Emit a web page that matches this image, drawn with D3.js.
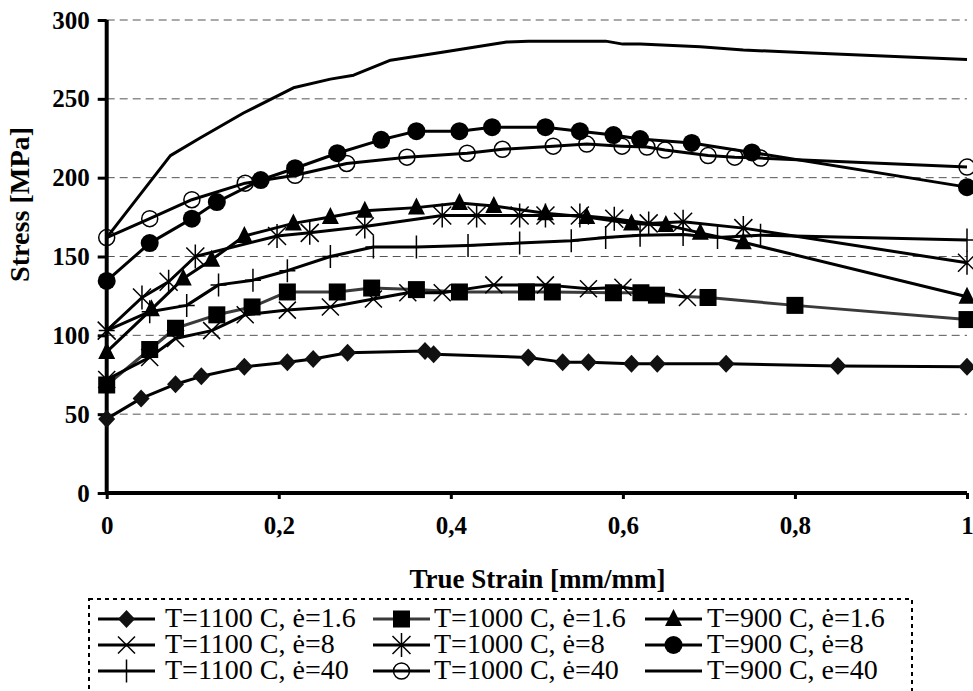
<!DOCTYPE html>
<html>
<head>
<meta charset="utf-8">
<script src="https://cdn.jsdelivr.net/npm/d3@7"></script>
<style>
  body { margin: 0; background: #fff; }
  svg text { font-family: 'Liberation Serif', 'Times New Roman', Times, serif !important; fill: #000; }
</style>
</head>
<body>
<svg id="grafico"></svg>
<script>
// eixos
const xTicks = [0, 0.2, 0.4, 0.6, 0.8, 1];
const xTickLabels = ['0', '0,2', '0,4', '0,6', '0,8', '1'];
const yTicks = [0, 50, 100, 150, 200, 250, 300];

// T=1100 C, e=1.6 (losango)
const strain1100_16 = [0, 0.04, 0.08, 0.11, 0.16, 0.21, 0.24, 0.28, 0.37, 0.38, 0.49, 0.53, 0.56, 0.61, 0.64, 0.72, 0.85, 1];
const stress1100_16 = [47, 60, 69, 74, 80, 83, 85, 89, 90, 88, 86, 83, 83, 82, 82, 82, 80.5, 80];

// T=1000 C, e=1.6 (quadrado)
const strain1000_16 = [0, 0.05, 0.08, 0.128, 0.169, 0.21, 0.268, 0.308, 0.36, 0.41, 0.488, 0.518, 0.589, 0.621, 0.639, 0.699, 0.8, 1];
const stress1000_16 = [68.5, 91, 104.5, 113, 118, 127.5, 127.5, 130, 129, 127.5, 127.5, 127.5, 127, 127, 125.5, 124, 119, 110];

// T=900 C, e=1.6 (triangulo)
const strain900_16 = [0, 0.052, 0.089, 0.122, 0.16, 0.217, 0.26, 0.3, 0.36, 0.41, 0.45, 0.51, 0.558, 0.61, 0.65, 0.69, 0.74, 1];
const stress900_16 = [89.5, 116.5, 136, 148, 163, 171, 175, 179, 181, 184, 182, 177.5, 175, 171, 170, 165, 159, 124.5];

// T=1100 C, e=8 (x)
const strain1100_8 = [0, 0.05, 0.08, 0.122, 0.161, 0.21, 0.26, 0.31, 0.35, 0.39, 0.45, 0.51, 0.56, 0.6, 0.675];
const stress1100_8 = [72, 86, 98, 103, 113, 116, 118, 123, 127, 127, 132, 132, 129.5, 130.5, 124];

// T=1000 C, e=8 (asterisco)
const strain1000_8 = [0, 0.041, 0.072, 0.103, 0.198, 0.236, 0.3, 0.39, 0.43, 0.48, 0.51, 0.55, 0.59, 0.63, 0.67, 0.74, 1];
const stress1000_8 = [103, 124, 134, 150, 163, 165, 169, 176, 176, 176, 176, 176, 174, 171, 172, 168, 146];

// T=900 C, e=8 (circulo cheio)
const strain900_8 = [0, 0.05, 0.099, 0.128, 0.179, 0.219, 0.268, 0.319, 0.36, 0.41, 0.448, 0.51, 0.55, 0.589, 0.62, 0.68, 0.75, 1];
const stress900_8 = [134.5, 158.5, 174, 184.5, 198.5, 206, 215.5, 224, 229.5, 229.5, 232, 232, 229.5, 227, 224.5, 222, 216, 194];

// T=1100 C, e=40 (cruz)
const strain1100_40 = [0, 0.05, 0.093, 0.13, 0.17, 0.21, 0.26, 0.31, 0.36, 0.42, 0.48, 0.54, 0.58, 0.62, 0.67, 0.71, 0.76, 1];
const stress1100_40 = [103, 115, 119, 132, 135, 141, 150, 156, 156, 157, 158.5, 160, 162, 163.5, 164, 162, 163.5, 160.5];

// T=1000 C, e=40 (circulo vazio)
const strain1000_40 = [0, 0.05, 0.099, 0.161, 0.219, 0.279, 0.349, 0.419, 0.46, 0.519, 0.558, 0.599, 0.628, 0.649, 0.699, 0.73, 0.76, 1];
const stress1000_40 = [162, 174, 186, 196.5, 201.5, 209, 213, 215.5, 218, 220, 221.3, 220, 219.4, 217.5, 214, 213, 212.4, 206.7];

// T=900 C, e=40 (so linha)
const strain900_40 = [0, 0.074, 0.108, 0.159, 0.217, 0.26, 0.287, 0.33, 0.39, 0.465, 0.49, 0.58, 0.6, 0.62, 0.69, 0.74, 0.82, 0.93, 1];
const stress900_40 = [162, 214, 225, 241, 257, 262.5, 265, 274.5, 279.5, 286, 286.6, 286.6, 284.7, 284.7, 283, 281, 279, 276.5, 275];

const series = [
    { nome: 'T=1100 C, \u0117=1.6', x: strain1100_16, y: stress1100_16, marca: 'losango', cor: '#000' },
    { nome: 'T=1000 C, \u0117=1.6', x: strain1000_16, y: stress1000_16, marca: 'quadrado', cor: '#3a3a3a' },
    { nome: 'T=900 C, \u0117=1.6', x: strain900_16, y: stress900_16, marca: 'triangulo', cor: '#000' },
    { nome: 'T=1100 C, \u0117=8', x: strain1100_8, y: stress1100_8, marca: 'xis', cor: '#000' },
    { nome: 'T=1000 C, \u0117=8', x: strain1000_8, y: stress1000_8, marca: 'asterisco', cor: '#000' },
    { nome: 'T=900 C, \u0117=8', x: strain900_8, y: stress900_8, marca: 'circulo', cor: '#000' },
    { nome: 'T=1100 C, \u0117=40', x: strain1100_40, y: stress1100_40, marca: 'cruz', cor: '#000' },
    { nome: 'T=1000 C, \u0117=40', x: strain1000_40, y: stress1000_40, marca: 'aberto', cor: '#000' },
    { nome: 'T=900 C, e=40', x: strain900_40, y: stress900_40, marca: 'nenhum', cor: '#000' }
];

const largura = 973, altura = 691;
const margem = { esquerda: 106.7, direita: 6, superior: 20, inferior: 198 };
const fonte = "'Liberation Serif', 'Times New Roman', Times, serif";

let svg = d3.select('#grafico')
    .attr('width', largura)
    .attr('height', altura);

const fnX = d3.scaleLinear().domain([0, 1]).range([margem.esquerda, largura - margem.direita]);
const fnY = d3.scaleLinear().domain([0, 300]).range([altura - margem.inferior, margem.superior]);

// grade tracejada
svg.append('g')
    .selectAll('line')
    .data(yTicks.filter((d) => d > 0))
    .enter()
    .append('line')
    .attr('x1', fnX(0))
    .attr('x2', fnX(1))
    .attr('y1', (d) => fnY(d))
    .attr('y2', (d) => fnY(d))
    .attr('stroke', '#555')
    .attr('stroke-width', 1)
    .attr('stroke-dasharray', '8,5');

// eixo Y
let eixoY = svg.append('g')
    .attr('transform', 'translate(' + fnX(0) + ',0)')
    .call(d3.axisLeft(fnY).tickValues(yTicks).tickSize(9).tickPadding(8).tickFormat(d3.format('d')));
eixoY.attr('font-family', fonte);
eixoY.select('.domain').attr('stroke-width', 4).attr('d', 'M0,' + fnY(300) + 'V' + fnY(0));
eixoY.selectAll('.tick line').attr('stroke-width', 3);
eixoY.selectAll('.tick text')
    .style('font-size', '25px')
    .style('font-weight', 'bold')
    .attr('fill', '#000');

// eixo X
let eixoX = svg.append('g')
    .attr('transform', 'translate(0,' + fnY(0) + ')')
    .call(d3.axisBottom(fnX).tickValues(xTicks).tickSize(6).tickPadding(17).tickFormat((d, i) => xTickLabels[i]));
eixoX.attr('font-family', fonte);
eixoX.select('.domain').attr('stroke-width', 4).attr('d', 'M' + fnX(0) + ',0H' + fnX(1));
eixoX.selectAll('.tick line').attr('stroke-width', 3);
eixoX.selectAll('.tick text')
    .style('font-size', '25px')
    .style('font-weight', 'bold')
    .attr('fill', '#000');

// titulos
svg.append('text')
    .attr('transform', 'translate(29,204.5) rotate(-90)')
    .style('text-anchor', 'middle')
    .style('font-size', '28px')
    .style('font-weight', 'bold')
    .attr('textLength', 155)
    .attr('lengthAdjust', 'spacingAndGlyphs')
    .text('Stress [MPa]');

svg.append('text')
    .attr('x', 537.5)
    .attr('y', 588)
    .style('text-anchor', 'middle')
    .style('font-size', '27px')
    .style('font-weight', 'bold')
    .text('True Strain [mm/mm]');

// marcadores
function desenheMarca(g, tipo, cx, cy) {
    if (tipo === 'losango') {
        g.append('path').attr('d', 'M' + cx + ',' + (cy - 9) + 'L' + (cx + 8.5) + ',' + cy + 'L' + cx + ',' + (cy + 9) + 'L' + (cx - 8.5) + ',' + cy + 'Z')
            .attr('fill', '#111');
    } else if (tipo === 'quadrado') {
        g.append('rect').attr('x', cx - 8.5).attr('y', cy - 8.5).attr('width', 17).attr('height', 17).attr('fill', '#000');
    } else if (tipo === 'triangulo') {
        g.append('path').attr('d', 'M' + cx + ',' + (cy - 10) + 'L' + (cx + 8.5) + ',' + (cy + 7) + 'L' + (cx - 8.5) + ',' + (cy + 7) + 'Z')
            .attr('fill', '#000');
    } else if (tipo === 'xis') {
        g.append('path').attr('d', 'M' + (cx - 8.5) + ',' + (cy - 8.5) + 'L' + (cx + 8.5) + ',' + (cy + 8.5) + 'M' + (cx + 8.5) + ',' + (cy - 8.5) + 'L' + (cx - 8.5) + ',' + (cy + 8.5))
            .attr('stroke', '#000').attr('stroke-width', 1.5);
    } else if (tipo === 'asterisco') {
        g.append('path').attr('d', 'M' + (cx - 9) + ',' + (cy - 9) + 'L' + (cx + 9) + ',' + (cy + 9) + 'M' + (cx + 9) + ',' + (cy - 9) + 'L' + (cx - 9) + ',' + (cy + 9) + 'M' + cx + ',' + (cy - 12) + 'L' + cx + ',' + (cy + 12))
            .attr('stroke', '#000').attr('stroke-width', 1.5);
    } else if (tipo === 'circulo') {
        g.append('circle').attr('cx', cx).attr('cy', cy).attr('r', 9).attr('fill', '#000');
    } else if (tipo === 'cruz') {
        g.append('path').attr('d', 'M' + cx + ',' + (cy - 11.5) + 'L' + cx + ',' + (cy + 11.5) + 'M' + (cx - 8) + ',' + cy + 'L' + (cx + 8) + ',' + cy)
            .attr('stroke', '#000').attr('stroke-width', 1.5);
    } else if (tipo === 'aberto') {
        g.append('circle').attr('cx', cx).attr('cy', cy).attr('r', 8).attr('fill', 'none')
            .attr('stroke', '#000').attr('stroke-width', 1.5);
    }
}

const linha = d3.line().x((d) => fnX(d[0])).y((d) => fnY(d[1]));

let plotagem = svg.append('g');
series.forEach((s) => {
    let pontos = s.x.map((v, i) => [v, s.y[i]]);
    plotagem.append('path')
        .datum(pontos)
        .attr('d', linha)
        .attr('fill', 'none')
        .attr('stroke', s.cor)
        .attr('stroke-width', 3)
        .attr('stroke-linejoin', 'round');
    let g = plotagem.append('g');
    pontos.forEach((p) => desenheMarca(g, s.marca, fnX(p[0]), fnY(p[1])));
});

// legenda
let legenda = svg.append('g');
legenda.append('rect')
    .attr('x', 89)
    .attr('y', 599)
    .attr('width', 823)
    .attr('height', 110)
    .attr('fill', 'none')
    .attr('stroke', '#000')
    .attr('stroke-width', 2)
    .attr('stroke-dasharray', '4,4');

const colunasLinha = [98, 373, 645];
const colunasTexto = [165, 434, 707];
const linhas = [619, 645, 671];
series.forEach((s, i) => {
    let cx0 = colunasLinha[i % 3];
    let cy = linhas[Math.floor(i / 3)];
    let g = legenda.append('g');
    g.append('line')
        .attr('x1', cx0).attr('x2', cx0 + 57)
        .attr('y1', cy).attr('y2', cy)
        .attr('stroke', s.cor)
        .attr('stroke-width', 3);
    desenheMarca(g, s.marca, cx0 + 28.5, cy);
    g.append('text')
        .attr('x', colunasTexto[i % 3])
        .attr('y', cy + 8)
        .style('font-size', '28px')
        .text(s.nome);
});
</script>
</body>
</html>
